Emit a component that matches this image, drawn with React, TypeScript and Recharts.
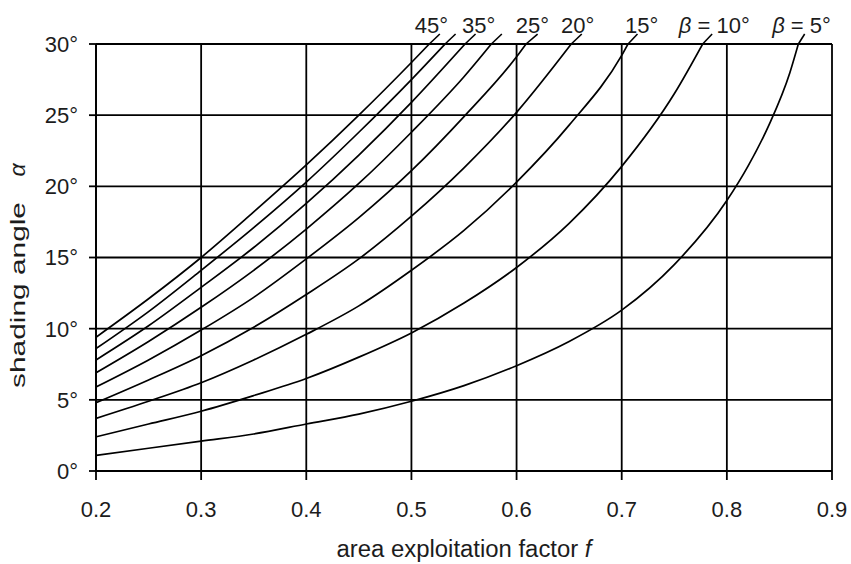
import React from "react";
import {
  LineChart,
  Line,
  XAxis,
  YAxis,
  CartesianGrid,
  ReferenceLine,
  ReferenceDot,
} from "recharts";

// x axis: area exploitation factor f ; y axis: shading angle (degrees)
const xTicks = [0.2, 0.3, 0.4, 0.5, 0.6, 0.7, 0.8, 0.9];
const yTicks = [0, 5, 10, 15, 20, 25, 30];

// curves, one per collector tilt beta
const f45 = [0.2, 0.25, 0.3, 0.35, 0.4, 0.45, 0.5, 0.517];
const a45 = [9.4, 12.1, 15.0, 18.2, 21.5, 25.0, 28.7, 30];

const f40 = [0.2, 0.25, 0.3, 0.35, 0.4, 0.45, 0.5, 0.532];
const a40 = [8.6, 11.2, 14.1, 17.1, 20.3, 23.8, 27.5, 30];

const f35 = [0.2, 0.25, 0.3, 0.35, 0.4, 0.45, 0.5, 0.551];
const a35 = [7.8, 10.2, 12.9, 15.7, 18.8, 22.2, 25.9, 30];

const f30 = [0.2, 0.25, 0.3, 0.35, 0.4, 0.45, 0.5, 0.55, 0.576];
const a30 = [6.9, 9.1, 11.5, 14.1, 17.0, 20.2, 23.8, 27.7, 30];

const f25 = [0.2, 0.25, 0.3, 0.35, 0.4, 0.45, 0.5, 0.55, 0.6, 0.609];
const a25 = [5.9, 7.8, 9.9, 12.2, 14.9, 17.8, 21.1, 24.9, 29.1, 30];

const f20 = [0.2, 0.25, 0.3, 0.35, 0.4, 0.45, 0.5, 0.55, 0.6, 0.652];
const a20 = [4.8, 6.4, 8.1, 10.1, 12.4, 14.9, 17.9, 21.3, 25.2, 30];

const f15 = [0.2, 0.25, 0.3, 0.35, 0.4, 0.45, 0.5, 0.55, 0.6, 0.65, 0.7, 0.706];
const a15 = [3.7, 4.9, 6.2, 7.8, 9.6, 11.6, 14.1, 16.9, 20.3, 24.3, 29.2, 30];

const f10 = [0.2, 0.25, 0.3, 0.35, 0.4, 0.45, 0.5, 0.55, 0.6, 0.65, 0.7, 0.75, 0.777];
const a10 = [2.4, 3.3, 4.2, 5.3, 6.5, 8.0, 9.7, 11.8, 14.3, 17.4, 21.4, 26.5, 30];

const f05 = [0.2, 0.25, 0.3, 0.35, 0.4, 0.45, 0.5, 0.55, 0.6, 0.65, 0.7, 0.75, 0.8, 0.82, 0.84, 0.86, 0.868];
const a05 = [1.1, 1.6, 2.1, 2.6, 3.3, 4.0, 4.9, 6.0, 7.4, 9.1, 11.3, 14.5, 19.0, 21.4, 24.3, 28.0, 30];

const curveF = [f45, f40, f35, f30, f25, f20, f15, f10, f05];
const curveA = [a45, a40, a35, a30, a25, a20, a15, a10, a05];

// short leader strokes above the top border
const leaderBaseF = [0.517, 0.532, 0.551, 0.576, 0.609, 0.652, 0.706, 0.777, 0.868];
const leaderTipF = [0.527, 0.542, 0.561, 0.586, 0.62, 0.662, 0.715, 0.786, 0.874];
const leaderBaseA = 30;
const leaderTipA = 30.7;

// curve labels
const labelText = ["45°", "35°", "25°", "20°", "15°", "β = 10°", "β = 5°"];
const labelF = [0.519, 0.564, 0.615, 0.658, 0.719, 0.788, 0.871];
const labelA = 30.77;

const FONT = "'Liberation Sans', Arial, Helvetica, sans-serif";
const TXT = "#1c1c1c";

const XTick = (props: any) => {
  const { x, y, payload } = props;
  return (
    <text x={x} y={y} dy={15.6} textAnchor="middle" fontSize={22} fill={TXT} fontFamily={FONT}>
      {Number(payload.value).toFixed(1)}
    </text>
  );
};

const YTick = (props: any) => {
  const { x, y, payload } = props;
  return (
    <text x={x} y={y} dy={7.9} textAnchor="end" fontSize={22} fill={TXT} fontFamily={FONT}>
      {`${payload.value}°`}
    </text>
  );
};

const YTitle = (props: any) => {
  const vb = props.viewBox || { x: 0, y: 44, width: 96, height: 427 };
  const x = vb.x + 24.5;
  const yc = vb.y + vb.height / 2 + 37.5;
  const ya = vb.y + 126;
  return (
    <g>
      <text
        x={x}
        y={yc}
        transform={`rotate(-90, ${x}, ${yc})`}
        textAnchor="middle"
        fontSize={20}
        fill={TXT}
        fontFamily={FONT}
        textLength={186}
        lengthAdjust="spacingAndGlyphs"
      >
        shading angle
      </text>
      <text
        x={x}
        y={ya}
        transform={`rotate(-90, ${x}, ${ya})`}
        textAnchor="middle"
        fontSize={23}
        fontStyle="italic"
        fill={TXT}
        fontFamily={FONT}
      >
        α
      </text>
    </g>
  );
};

const XTitle = (props: any) => {
  const vb = props.viewBox || { x: 96, y: 471, width: 736, height: 60 };
  const x = vb.x + vb.width / 2;
  const y = vb.y + 86;
  return (
    <text
      x={x}
      y={y}
      textAnchor="middle"
      fontSize={23}
      fill={TXT}
      fontFamily={FONT}
      textLength={255}
      lengthAdjust="spacingAndGlyphs"
    >
      area exploitation factor <tspan fontStyle="italic">f</tspan>
    </text>
  );
};

const CurveLabel = (text: string) => (props: any) => {
  const { cx, cy } = props;
  if (text.startsWith("β")) {
    return (
      <text x={cx} y={cy} textAnchor="middle" fontSize={22} fill={TXT} fontFamily={FONT}>
        <tspan fontStyle="italic">β</tspan>
        {text.slice(1)}
      </text>
    );
  }
  return (
    <text x={cx} y={cy} textAnchor="middle" fontSize={22} fill={TXT} fontFamily={FONT}>
      {text}
    </text>
  );
};

export default function App() {
  const series = curveF.map((fs, i) => fs.map((f, j) => ({ f, a: curveA[i][j] })));
  return (
    <div style={{ position: "absolute", left: 0, top: 0, width: 851, height: 564, background: "#fff" }}>
      <LineChart
        width={851}
        height={564}
        margin={{ top: 44, right: 19, bottom: 33, left: 0 }}
        style={{ fontFamily: FONT }}
      >
        <CartesianGrid stroke="#000" strokeWidth={1.8} fill="none" />
        <XAxis
          type="number"
          dataKey="f"
          domain={[0.2, 0.9]}
          ticks={xTicks}
          allowDataOverflow
          height={60}
          tickSize={9}
          tickMargin={21}
          axisLine={{ stroke: "#000", strokeWidth: 1.8 }}
          tickLine={{ stroke: "#000", strokeWidth: 1.8 }}
          tick={<XTick />}
          interval={0}
          label={<XTitle />}
        />
        <YAxis
          type="number"
          dataKey="a"
          domain={[0, 30]}
          ticks={yTicks}
          allowDataOverflow
          width={96}
          tickSize={7}
          tickMargin={11}
          axisLine={{ stroke: "#000", strokeWidth: 1.8 }}
          tickLine={{ stroke: "#000", strokeWidth: 1.8 }}
          tick={<YTick />}
          interval={0}
          label={<YTitle />}
        />
        {series.map((d, i) => (
          <Line
            key={`c${i}`}
            data={d}
            dataKey="a"
            type="monotone"
            stroke="#000"
            strokeWidth={1.7}
            dot={false}
            activeDot={false}
            isAnimationActive={false}
          />
        ))}
        {leaderBaseF.map((fb, i) => (
          <ReferenceLine
            key={`l${i}`}
            segment={[
              { x: fb, y: leaderBaseA },
              { x: leaderTipF[i], y: leaderTipA },
            ]}
            stroke="#000"
            strokeWidth={1.6}
            ifOverflow="visible"
          />
        ))}
        {labelText.map((t, i) => (
          <ReferenceDot
            key={`t${i}`}
            x={labelF[i]}
            y={labelA}
            r={0}
            ifOverflow="visible"
            shape={CurveLabel(t)}
          />
        ))}
      </LineChart>
    </div>
  );
}
